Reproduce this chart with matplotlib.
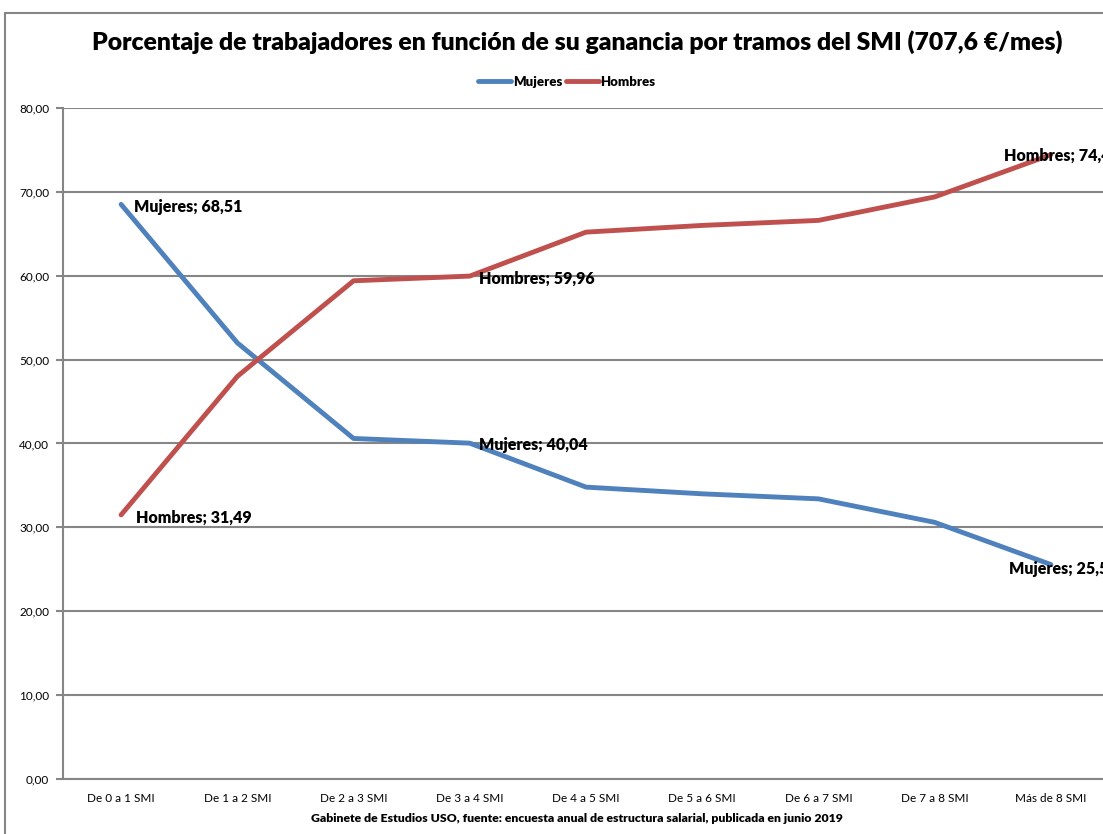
"""
Porcentaje de trabajadores por tramos del SMI
"""
import matplotlib
matplotlib.use('Agg')
import matplotlib.pyplot as plt
from matplotlib.patches import Rectangle
import numpy as np

categorias = ['De 0 a 1 SMI', 'De 1 a 2 SMI', 'De 2 a 3 SMI', 'De 3 a 4 SMI',
              'De 4 a 5 SMI', 'De 5 a 6 SMI', 'De 6 a 7 SMI', 'De 7 a 8 SMI',
              'Más de 8 SMI']
mujeres = [68.51, 52.0, 40.6, 40.04, 34.8, 34.0, 33.4, 30.6, 25.57]
hombres = [31.49, 48.0, 59.4, 59.96, 65.2, 66.0, 66.6, 69.4, 74.43]

azul = '#4F81BD'
rojo = '#C0504D'
gris = '#868686'

plt.rcParams['font.family'] = ['Lato', 'DejaVu Sans']

fig = plt.figure(figsize=(11.03, 8.34), dpi=100)

# Outer chart frame
fig.patches.append(Rectangle((5 / 1103, -0.01), 1.1, 1 - 13 / 834 + 0.01,
                             transform=fig.transFigure, fill=False,
                             edgecolor=gris, linewidth=1.5))

ax = fig.add_axes([63 / 1103, 1 - 779 / 834, 1046 / 1103, 671 / 834])
x = np.arange(len(categorias))
ax.plot(x, mujeres, color=azul, linewidth=3.5, label='Mujeres', solid_capstyle='round')
ax.plot(x, hombres, color=rojo, linewidth=3.5, label='Hombres', solid_capstyle='round')

ax.set_xlim(-0.5, len(categorias) - 0.5)
ax.set_ylim(0, 80)
ax.set_yticks(np.arange(0, 81, 10))
ax.set_yticklabels([f'{v:.2f}'.replace('.', ',') for v in np.arange(0, 81, 10)], fontsize=8.5)
ax.set_xticks(x)
ax.set_xticklabels(categorias, fontsize=8.5)
ax.tick_params(axis='x', length=0, pad=10)
ax.tick_params(axis='y', length=5, color=gris, width=1.5, pad=5)
ax.grid(axis='y', color=gris, linewidth=1.5)
ax.set_axisbelow(True)
for s in ['top', 'right']:
    ax.spines[s].set_visible(False)
for s in ['left', 'bottom']:
    ax.spines[s].set_color(gris)
    ax.spines[s].set_linewidth(1.5)

# Data labels
def fmt(v):
    return f'{v:.2f}'.replace('.', ',')

lab = dict(fontsize=11.5, fontweight='heavy', va='center', clip_on=False)
ax.annotate(f'Mujeres; {fmt(mujeres[0])}', (0, mujeres[0]), xytext=(9, -2),
            textcoords='offset points', **lab)
ax.annotate(f'Hombres; {fmt(hombres[0])}', (0, hombres[0]), xytext=(11, -2),
            textcoords='offset points', **lab)
ax.annotate(f'Hombres; {fmt(hombres[3])}', (3, hombres[3]), xytext=(7, -2),
            textcoords='offset points', **lab)
ax.annotate(f'Mujeres; {fmt(mujeres[3])}', (3, mujeres[3]), xytext=(7, -1),
            textcoords='offset points', **lab)
ax.annotate(f'Hombres; {fmt(hombres[8])}', (8, hombres[8]), xytext=(-34, -1),
            textcoords='offset points', **lab)
ax.annotate(f'Mujeres; {fmt(mujeres[8])}', (8, mujeres[8]), xytext=(-30, -3),
            textcoords='offset points', **lab)

fig.text(0.523, 1 - 42 / 834, 'Porcentaje de trabajadores en función de su ganancia por tramos del SMI (707,6 €/mes)',
         ha='center', va='center', fontsize=17.8, fontweight='heavy')
fig.text(0.523, 1 - 818 / 834, 'Gabinete de Estudios USO, fuente: encuesta anual de estructura salarial, publicada en junio 2019',
         ha='center', va='center', fontsize=8.8, fontweight='heavy')

fig.legend(loc='center', bbox_to_anchor=(0.514, 1 - 82 / 834), ncol=2, frameon=False,
           prop={'size': 9.5, 'weight': 'heavy'}, handlelength=2.5, columnspacing=0.3,
           handletextpad=0.1)

fig.savefig('out.png', dpi=100)
